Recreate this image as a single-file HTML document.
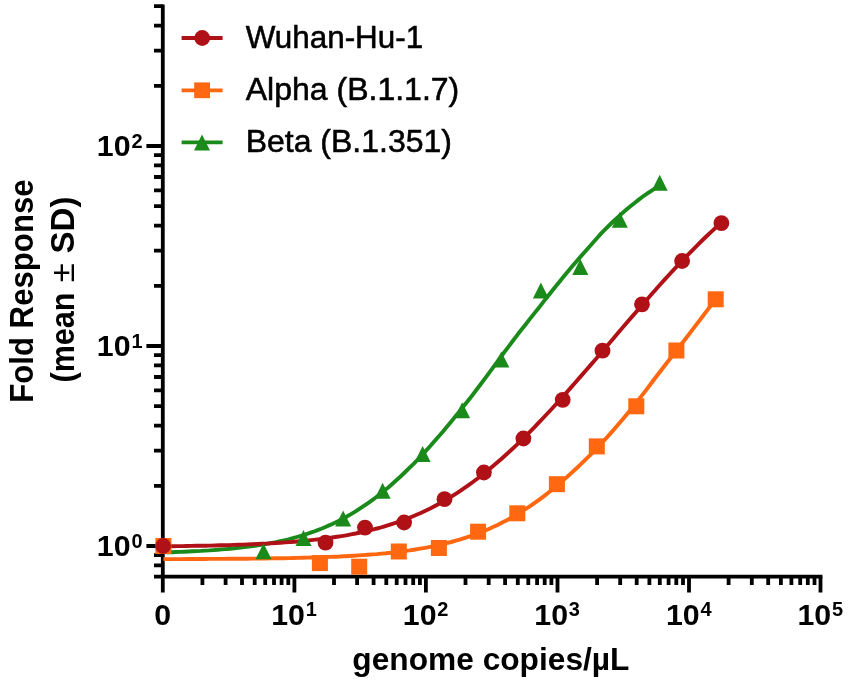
<!DOCTYPE html>
<html><head><meta charset="utf-8"><title>Fold Response</title>
<style>
html,body{margin:0;padding:0;background:#fff}
svg{display:block}
text{font-family:"Liberation Sans",sans-serif;fill:#000}
.b{font-weight:bold}
</style></head><body>
<svg width="851" height="687" viewBox="0 0 851 687">
<rect width="851" height="687" fill="#fff"/>
<g stroke="#000" stroke-width="3.8" fill="none" stroke-linecap="butt">
<path d="M162.8,4.4 V592.5"/>
<path d="M154,576.6 H822.4"/>
<path d="M146.4,546.0 H162.8 M146.4,346.0 H162.8 M146.4,146.0 H162.8 M154,565.4 H162.8 M154,555.2 H162.8 M154,485.8 H162.8 M154,450.6 H162.8 M154,425.6 H162.8 M154,406.2 H162.8 M154,390.4 H162.8 M154,377.0 H162.8 M154,365.4 H162.8 M154,355.2 H162.8 M154,285.8 H162.8 M154,250.6 H162.8 M154,225.6 H162.8 M154,206.2 H162.8 M154,190.4 H162.8 M154,177.0 H162.8 M154,165.4 H162.8 M154,155.2 H162.8 M154,85.8 H162.8 M154,50.6 H162.8 M154,25.6 H162.8 M154,6.2 H162.8 M154,6.2 H162.8 M294.4,576.6 V592.5 M425.9,576.6 V592.5 M557.5,576.6 V592.5 M689.0,576.6 V592.5 M820.5,576.6 V592.5 M202.4,576.6 V585 M225.6,576.6 V585 M242.0,576.6 V585 M254.7,576.6 V585 M265.2,576.6 V585 M274.0,576.6 V585 M281.6,576.6 V585 M288.3,576.6 V585 M334.0,576.6 V585 M357.1,576.6 V585 M373.6,576.6 V585 M386.3,576.6 V585 M396.7,576.6 V585 M405.5,576.6 V585 M413.2,576.6 V585 M419.9,576.6 V585 M465.5,576.6 V585 M488.7,576.6 V585 M505.1,576.6 V585 M517.8,576.6 V585 M528.3,576.6 V585 M537.1,576.6 V585 M544.7,576.6 V585 M551.4,576.6 V585 M597.1,576.6 V585 M620.2,576.6 V585 M636.7,576.6 V585 M649.4,576.6 V585 M659.8,576.6 V585 M668.6,576.6 V585 M676.3,576.6 V585 M683.0,576.6 V585 M728.6,576.6 V585 M751.8,576.6 V585 M768.2,576.6 V585 M780.9,576.6 V585 M791.4,576.6 V585 M800.2,576.6 V585 M807.8,576.6 V585 M814.5,576.6 V585"/>
</g>
<text class="b" x="142.5" y="556.3" font-size="30.3" text-anchor="end">10<tspan font-size="20" dy="-8.7" dx="0.8">0</tspan></text>
<text class="b" x="142.5" y="356.3" font-size="30.3" text-anchor="end">10<tspan font-size="20" dy="-8.7" dx="0.8">1</tspan></text>
<text class="b" x="142.5" y="156.3" font-size="30.3" text-anchor="end">10<tspan font-size="20" dy="-8.7" dx="0.8">2</tspan></text>
<text class="b" x="162.8" y="625.0" font-size="30.3" text-anchor="middle">0</text>
<text class="b" x="294.05" y="625.0" font-size="30.3" text-anchor="middle">10<tspan font-size="20" dy="-8.7" dx="0.8">1</tspan></text>
<text class="b" x="425.6" y="625.0" font-size="30.3" text-anchor="middle">10<tspan font-size="20" dy="-8.7" dx="0.8">2</tspan></text>
<text class="b" x="557.1500000000001" y="625.0" font-size="30.3" text-anchor="middle">10<tspan font-size="20" dy="-8.7" dx="0.8">3</tspan></text>
<text class="b" x="688.7" y="625.0" font-size="30.3" text-anchor="middle">10<tspan font-size="20" dy="-8.7" dx="0.8">4</tspan></text>
<text class="b" x="820.25" y="625.0" font-size="30.3" text-anchor="middle">10<tspan font-size="20" dy="-8.7" dx="0.8">5</tspan></text>
<text class="b" x="490.9" y="669.8" font-size="31.5" text-anchor="middle" textLength="277.2" lengthAdjust="spacingAndGlyphs">genome copies/µL</text>
<text class="b" transform="translate(33.0,291.1) rotate(-90)" font-size="32.5" text-anchor="middle" textLength="223.5" lengthAdjust="spacingAndGlyphs">Fold Response</text>
<text class="b" transform="translate(73.6,382.5) rotate(-90)" font-size="32.5" textLength="90" lengthAdjust="spacingAndGlyphs">(mean</text>
<text transform="translate(73.6,282.2) rotate(-90)" font-size="33" textLength="19" lengthAdjust="spacingAndGlyphs">±</text>
<text class="b" transform="translate(73.6,253.5) rotate(-90)" font-size="32.5" textLength="57" lengthAdjust="spacingAndGlyphs">SD)</text>
<g fill="none" stroke-width="3.9" stroke-linecap="butt" stroke-linejoin="round">
<path stroke="#ff6810" d="M163.4,559.1 L168.0,559.1 L172.7,559.1 L177.3,559.1 L182.0,559.1 L186.6,559.0 L191.2,559.0 L195.9,559.0 L200.5,559.0 L205.2,559.0 L209.8,558.9 L214.5,558.9 L219.1,558.9 L223.7,558.9 L228.4,558.8 L233.0,558.8 L237.7,558.8 L242.3,558.7 L246.9,558.7 L251.6,558.6 L256.2,558.6 L260.9,558.5 L265.5,558.5 L270.1,558.4 L274.8,558.3 L279.4,558.2 L284.1,558.2 L288.7,558.1 L293.4,558.0 L298.0,557.9 L302.6,557.8 L307.3,557.6 L311.9,557.5 L316.6,557.4 L321.2,557.2 L325.8,557.0 L330.5,556.9 L335.1,556.7 L339.8,556.5 L344.4,556.2 L349.0,556.0 L353.7,555.7 L358.3,555.4 L363.0,555.1 L367.6,554.8 L372.3,554.4 L376.9,554.1 L381.5,553.6 L386.2,553.2 L390.8,552.7 L395.5,552.2 L400.1,551.6 L404.7,551.0 L409.4,550.4 L414.0,549.7 L418.7,548.9 L423.3,548.1 L427.9,547.3 L432.6,546.4 L437.2,545.4 L441.9,544.3 L446.5,543.2 L451.2,542.0 L455.8,540.7 L460.4,539.4 L465.1,537.9 L469.7,536.4 L474.4,534.7 L479.0,533.0 L483.6,531.1 L488.3,529.2 L492.9,527.1 L497.6,524.9 L502.2,522.6 L506.8,520.2 L511.5,517.7 L516.1,515.0 L520.8,512.2 L525.4,509.2 L530.1,506.1 L534.7,502.9 L539.3,499.6 L544.0,496.1 L548.6,492.5 L553.3,488.7 L557.9,484.9 L562.5,480.9 L567.2,476.8 L571.8,472.6 L576.5,468.3 L581.1,463.9 L585.7,459.4 L590.4,454.8 L595.0,450.1 L599.7,445.3 L604.3,440.3 L609.0,435.1 L613.6,429.9 L618.2,424.5 L622.9,419.0 L627.5,413.4 L632.2,407.8 L636.8,402.0 L641.4,396.1 L646.1,390.1 L650.7,384.0 L655.4,377.8 L660.0,371.8 L664.6,365.8 L669.3,359.8 L673.9,353.8 L678.6,347.8 L683.2,341.8 L687.9,335.8 L692.5,329.7 L697.1,323.6 L701.8,317.5 L706.4,311.4 L711.1,305.3 L715.7,299.2"/>
<path stroke="#1a8a1a" d="M163.4,552.4 L167.6,552.3 L171.7,552.2 L175.9,552.0 L180.1,551.9 L184.2,551.7 L188.4,551.5 L192.6,551.3 L196.8,551.1 L200.9,550.9 L205.1,550.6 L209.3,550.4 L213.4,550.1 L217.6,549.8 L221.8,549.4 L225.9,549.1 L230.1,548.7 L234.3,548.3 L238.5,547.8 L242.6,547.4 L246.8,546.9 L251.0,546.3 L255.1,545.7 L259.3,545.1 L263.5,544.4 L267.6,543.7 L271.8,542.9 L276.0,542.1 L280.2,541.2 L284.3,540.3 L288.5,539.3 L292.7,538.2 L296.8,537.0 L301.0,535.8 L305.2,534.5 L309.3,533.1 L313.5,531.7 L317.7,530.1 L321.9,528.5 L326.0,526.7 L330.2,524.9 L334.4,522.9 L338.5,520.9 L342.7,518.7 L346.9,516.5 L351.0,514.1 L355.2,511.6 L359.4,508.9 L363.5,506.2 L367.7,503.3 L371.9,500.3 L376.1,497.2 L380.2,494.0 L384.4,490.6 L388.6,487.2 L392.7,483.5 L396.9,479.8 L401.1,476.0 L405.2,472.0 L409.4,467.9 L413.6,463.8 L417.8,459.5 L421.9,455.1 L426.1,450.6 L430.3,446.0 L434.4,441.3 L438.6,436.5 L442.8,431.7 L446.9,426.7 L451.1,421.7 L455.3,416.6 L459.5,411.5 L463.6,406.3 L467.8,401.0 L472.0,395.7 L476.1,390.3 L480.3,384.8 L484.5,379.2 L488.6,373.6 L492.8,367.9 L497.0,362.2 L501.1,356.5 L505.3,350.9 L509.5,345.3 L513.7,339.8 L517.8,334.3 L522.0,329.0 L526.2,323.7 L530.3,318.4 L534.5,313.1 L538.7,307.9 L542.8,302.6 L547.0,297.3 L551.2,292.0 L555.4,286.8 L559.5,281.7 L563.7,276.6 L567.9,271.6 L572.0,266.6 L576.2,261.7 L580.4,256.9 L584.5,252.2 L588.7,247.5 L592.9,242.7 L597.1,238.0 L601.2,233.4 L605.4,229.1 L609.6,225.0 L613.7,221.0 L617.9,217.1 L622.1,213.4 L626.2,209.8 L630.4,206.3 L634.6,202.9 L638.8,199.6 L642.9,196.5 L647.1,193.6 L651.3,190.8 L655.4,188.2 L659.6,185.8"/>
<path stroke="#b01116" d="M163.4,546.3 L168.1,546.2 L172.8,546.2 L177.5,546.1 L182.2,546.1 L186.8,546.0 L191.5,545.9 L196.2,545.8 L200.9,545.8 L205.6,545.7 L210.3,545.6 L215.0,545.5 L219.7,545.3 L224.4,545.2 L229.0,545.1 L233.7,544.9 L238.4,544.8 L243.1,544.6 L247.8,544.4 L252.5,544.2 L257.2,544.0 L261.9,543.8 L266.6,543.6 L271.2,543.3 L275.9,543.0 L280.6,542.7 L285.3,542.4 L290.0,542.1 L294.7,541.7 L299.4,541.3 L304.1,540.9 L308.8,540.4 L313.5,539.9 L318.1,539.4 L322.8,538.8 L327.5,538.2 L332.2,537.5 L336.9,536.8 L341.6,536.1 L346.3,535.3 L351.0,534.4 L355.7,533.5 L360.3,532.5 L365.0,531.5 L369.7,530.4 L374.4,529.2 L379.1,528.0 L383.8,526.6 L388.5,525.2 L393.2,523.7 L397.9,522.1 L402.5,520.4 L407.2,518.6 L411.9,516.8 L416.6,514.8 L421.3,512.7 L426.0,510.5 L430.7,508.2 L435.4,505.7 L440.1,503.2 L444.7,500.5 L449.4,497.8 L454.1,494.9 L458.8,491.8 L463.5,488.7 L468.2,485.4 L472.9,482.0 L477.6,478.5 L482.3,474.9 L486.9,471.2 L491.6,467.3 L496.3,463.3 L501.0,459.2 L505.7,455.0 L510.4,450.7 L515.1,446.3 L519.8,441.8 L524.5,437.2 L529.1,432.6 L533.8,427.8 L538.5,422.9 L543.2,418.0 L547.9,413.0 L552.6,408.0 L557.3,402.8 L562.0,397.6 L566.7,392.4 L571.3,387.1 L576.0,381.8 L580.7,376.4 L585.4,371.0 L590.1,365.6 L594.8,360.2 L599.5,354.7 L604.2,349.2 L608.9,343.7 L613.6,338.2 L618.2,332.7 L622.9,327.3 L627.6,321.8 L632.3,316.4 L637.0,310.9 L641.7,305.5 L646.4,300.2 L651.1,294.8 L655.8,289.5 L660.4,284.3 L665.1,279.1 L669.8,274.0 L674.5,268.9 L679.2,263.9 L683.9,259.0 L688.6,254.1 L693.3,249.3 L698.0,244.6 L702.6,240.0 L707.3,235.5 L712.0,231.1 L716.7,226.8 L721.4,222.6"/>
</g>
<g fill="#ff6810">
<rect x="155.4" y="538.0" width="16" height="16"/>
<rect x="311.9" y="555.1" width="16" height="16"/>
<rect x="351.2" y="558.7" width="16" height="16"/>
<rect x="390.8" y="543.5" width="16" height="16"/>
<rect x="430.9" y="540.0" width="16" height="16"/>
<rect x="470.1" y="523.7" width="16" height="16"/>
<rect x="509.3" y="505.3" width="16" height="16"/>
<rect x="548.9" y="476.2" width="16" height="16"/>
<rect x="588.8" y="438.4" width="16" height="16"/>
<rect x="628.3" y="398.3" width="16" height="16"/>
<rect x="668.4" y="342.5" width="16" height="16"/>
<rect x="707.7" y="291.3" width="16" height="16"/>
</g>
<g fill="#1a8a1a">
<path d="M263.5,543.2 l8,16 h-16 z"/>
<path d="M303.5,530.0 l8,16 h-16 z"/>
<path d="M343.1,510.6 l8,16 h-16 z"/>
<path d="M382.6,482.8 l8,16 h-16 z"/>
<path d="M422.6,446.0 l8,16 h-16 z"/>
<path d="M462.1,402.2 l8,16 h-16 z"/>
<path d="M501.3,351.6 l8,16 h-16 z"/>
<path d="M540.9,282.6 l8,16 h-16 z"/>
<path d="M580.3,259.0 l8,16 h-16 z"/>
<path d="M619.8,211.7 l8,16 h-16 z"/>
<path d="M659.7,174.7 l8,16 h-16 z"/>
</g>
<g fill="#b01116">
<circle cx="163.1" cy="546.0" r="7.9"/>
<circle cx="325.5" cy="542.6" r="7.9"/>
<circle cx="365.0" cy="527.6" r="7.9"/>
<circle cx="404.1" cy="522.5" r="7.9"/>
<circle cx="444.5" cy="499.2" r="7.9"/>
<circle cx="483.9" cy="472.5" r="7.9"/>
<circle cx="523.4" cy="438.5" r="7.9"/>
<circle cx="562.7" cy="399.8" r="7.9"/>
<circle cx="602.5" cy="350.7" r="7.9"/>
<circle cx="642.0" cy="304.3" r="7.9"/>
<circle cx="682.1" cy="261.0" r="7.9"/>
<circle cx="721.4" cy="223.1" r="7.9"/>
</g>
<path d="M181.6,38 H222.6" stroke="#b01116" stroke-width="3.8" fill="none"/>
<circle cx="202.2" cy="38" r="7.9" fill="#b01116"/>
<text x="245.7" y="48.1" font-size="31.5" stroke="#000" stroke-width="0.55" textLength="177.5" lengthAdjust="spacingAndGlyphs">Wuhan-Hu-1</text>
<path d="M181.6,90.3 H222.6" stroke="#ff6810" stroke-width="3.8" fill="none"/>
<rect x="194.2" y="82.39999999999999" width="15.8" height="15.8" fill="#ff6810"/>
<text x="245.7" y="100.3" font-size="31.5" stroke="#000" stroke-width="0.55" textLength="213.6" lengthAdjust="spacingAndGlyphs">Alpha (B.1.1.7)</text>
<path d="M181.6,142.3 H222.6" stroke="#1a8a1a" stroke-width="3.8" fill="none"/>
<path d="M202,134.60000000000002 l8,15.8 h-16 z" fill="#1a8a1a"/>
<text x="245.7" y="152.0" font-size="31.5" stroke="#000" stroke-width="0.55" textLength="206.2" lengthAdjust="spacingAndGlyphs">Beta (B.1.351)</text>
</svg></body></html>
